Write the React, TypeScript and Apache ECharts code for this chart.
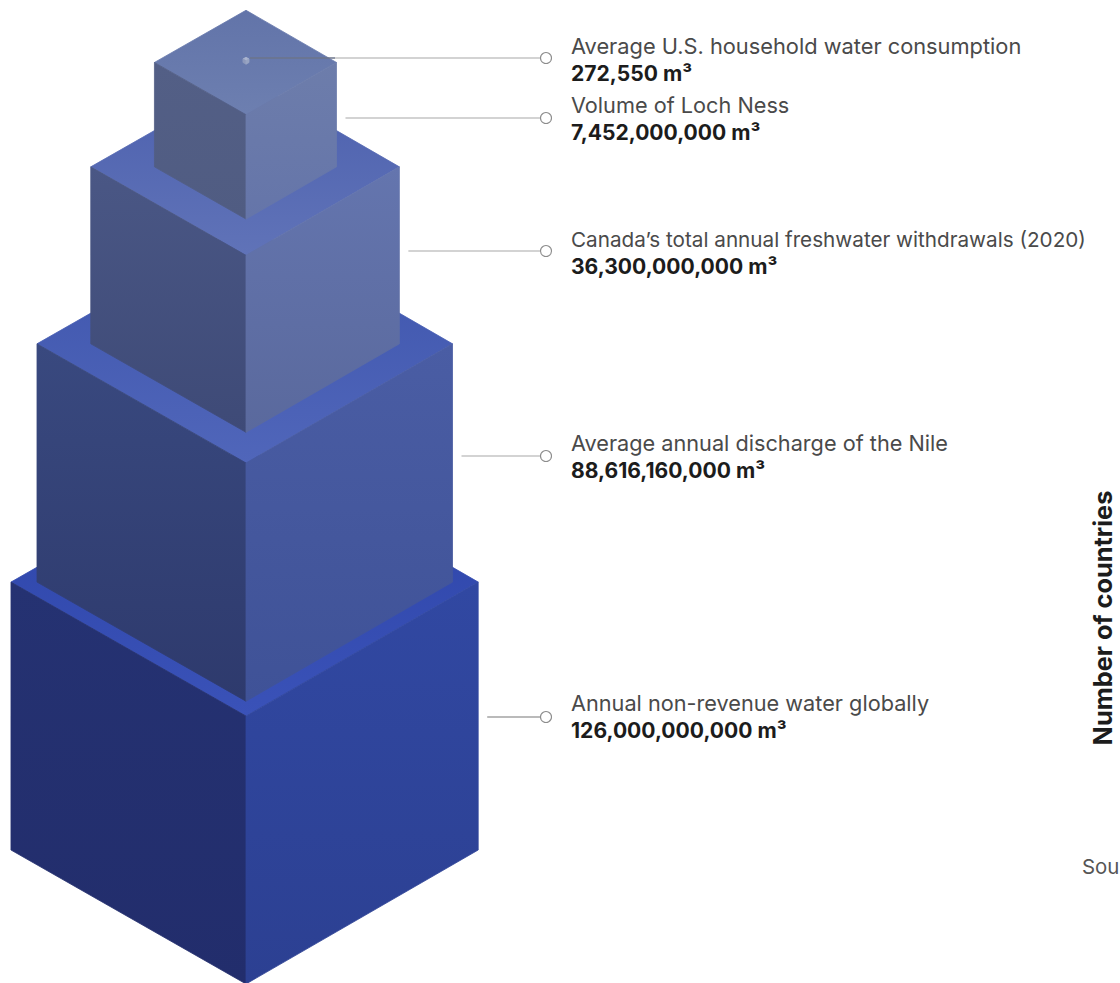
import React, { useEffect, useRef } from "react";
import * as echarts from "echarts";

// Bottom of the stack first.
const names = [
  "Annual non-revenue water globally",
  "Average annual discharge of the Nile",
  "Canada\u2019s total annual freshwater withdrawals (2020)",
  "Volume of Loch Ness",
  "Average U.S. household water consumption",
];
const volumes = [126000000000, 88616160000, 36300000000, 7452000000, 272550];
const axisTitle = "Number of countries";
const clippedSource = "Sou";

// Drawing settings
const CX = 246;
const BASE_Y = 850;
const PX_PER_M = 0.04688;
const HEIGHT_K = 1.14;
const RISE_K = 0.57;
const RIGHT_K = 0.988;
const leaderY = [717, 456, 251, 118, 58];
const textY = [703, 443, 239, 105, 46];
const nameSize = [21.7, 21.7, 20.7, 21.7, 21.8];
const faces = [
  { top: ["#2c43a6", "#3a52b8"], left: ["#253272", "#222d6c"], right: ["#3148a2", "#2c4092"] },
  { top: ["#3d54ac", "#5066ba"], left: ["#39497f", "#2e3a6d"], right: ["#4a5da4", "#3f5297"] },
  { top: ["#4c60ae", "#6073b8"], left: ["#4a5785", "#3e4a77"], right: ["#6475ae", "#5a699d"] },
  { top: ["#6274a9", "#6d7fb0"], left: ["#535f86", "#505c82"], right: ["#6d7dab", "#6575a9"] },
  { top: ["#aab4cf", "#aab4cf"], left: ["#8d99bb", "#8d99bb"], right: ["#98a4c3", "#98a4c3"] },
];

function vGrad(c: string[]) {
  return new echarts.graphic.LinearGradient(0, 0, 0, 1, [
    { offset: 0, color: c[0] },
    { offset: 1, color: c[1] },
  ]);
}

// Every cube's edge follows from its volume (cube root), stacked from the base up.
const cubes = (() => {
  let base = BASE_Y;
  return volumes.map((v) => {
    const hw = PX_PER_M * Math.cbrt(v);
    const h = hw * HEIGHT_K;
    const cube = { hw, h, base, top: base - h, rise: hw * RISE_K };
    base -= h;
    return cube;
  });
})();

export default function App() {
  const ref = useRef<HTMLDivElement>(null);
  useEffect(() => {
    const chart = echarts.init(ref.current!, null, { renderer: "svg" });
    const poly = (api: any, pts: number[][], colors: string[]) => {
      const g = vGrad(colors);
      return {
        type: "polygon",
        shape: { points: pts.map((p) => api.coord(p)) },
        style: { fill: g, stroke: g, lineWidth: 0.8, lineJoin: "round" },
      };
    };
    chart.setOption({
      animation: false,
      backgroundColor: "#ffffff",
      grid: { left: 0, right: 0, top: 0, bottom: 0 },
      xAxis: { type: "value", min: 0, max: 1120, show: false },
      yAxis: { type: "value", min: 0, max: 983, inverse: true, show: false },
      series: [
        {
          type: "custom",
          silent: true,
          clip: false,
          data: volumes.map((_, i) => [i]),
          renderItem: (_: any, api: any) => {
            const i = api.value(0);
            const { hw, top, rise, base } = cubes[i];
            const f = faces[i];
            const L = CX - hw;
            const R = CX + hw * RIGHT_K;
            return {
              type: "group",
              children: [
                poly(api, [[CX, top - rise], [R, top], [CX, top + rise], [L, top]], f.top),
                poly(api, [[L, top], [CX, top + rise], [CX, base + rise], [L, base]], f.left),
                poly(api, [[CX, top + rise], [R, top], [R, base], [CX, base + rise]], f.right),
              ],
            };
          },
        },
        {
          type: "custom",
          silent: true,
          clip: false,
          data: volumes.map((_, i) => [i]),
          renderItem: (_: any, api: any) => {
            const i = api.value(0);
            const y = leaderY[i];
            const start = CX + cubes[i].hw * RIGHT_K + (i === 4 ? 1 : 9);
            const [x0, y0] = api.coord([start, y]);
            const [x1] = api.coord([540, y]);
            const [cx] = api.coord([546, y]);
            const [tx, ty] = api.coord([571, textY[i]]);
            const lineColor = i === 0 ? "#777777" : "#a8a8a8";
            const children: any[] = [
              { type: "line", shape: { x1: x0, y1: y0, x2: x1, y2: y0 }, style: { stroke: lineColor, lineWidth: 1.2 } },
              { type: "circle", shape: { cx, cy: y0, r: 5.5 }, style: { fill: "#ffffff", stroke: "#8c8c8c", lineWidth: 1.1 } },
              {
                type: "text",
                x: tx,
                y: ty,
                style: {
                  text: names[i],
                  font: `400 ${nameSize[i]}px Inter`,
                  fill: "#4a4a4a",
                  textAlign: "left",
                  textVerticalAlign: "middle",
                },
              },
              {
                type: "text",
                x: tx,
                y: ty + 27,
                style: {
                  text: `${volumes[i].toLocaleString("en-US")} m\u00b3`,
                  font: "700 21.1px Inter",
                  fill: "#1c1c1c",
                  textAlign: "left",
                  textVerticalAlign: "middle",
                },
              },
            ];
            if (i === 4) {
              const [x2] = api.coord([335, y]);
              children.push({ type: "line", shape: { x1: x0, y1: y0, x2, y2: y0 }, style: { stroke: "#4f5a7c", lineWidth: 1.2 } });
            }
            return { type: "group", children };
          },
        },
      ],
      graphic: [
        {
          type: "text",
          x: 1102,
          y: 618,
          rotation: Math.PI / 2,
          style: {
            text: axisTitle,
            font: "700 25.3px Inter",
            fill: "#1c1c1c",
            textAlign: "center",
            textVerticalAlign: "middle",
          },
        },
        {
          type: "text",
          x: 1082,
          y: 866,
          style: {
            text: clippedSource,
            font: "400 20.4px Inter",
            fill: "#555555",
            textAlign: "left",
            textVerticalAlign: "middle",
          },
        },
      ],
    });
    return () => chart.dispose();
  }, []);
  return (
    <div
      ref={ref}
      style={{ position: "absolute", left: 0, top: 0, width: 1120, height: 983 }}
    />
  );
}
